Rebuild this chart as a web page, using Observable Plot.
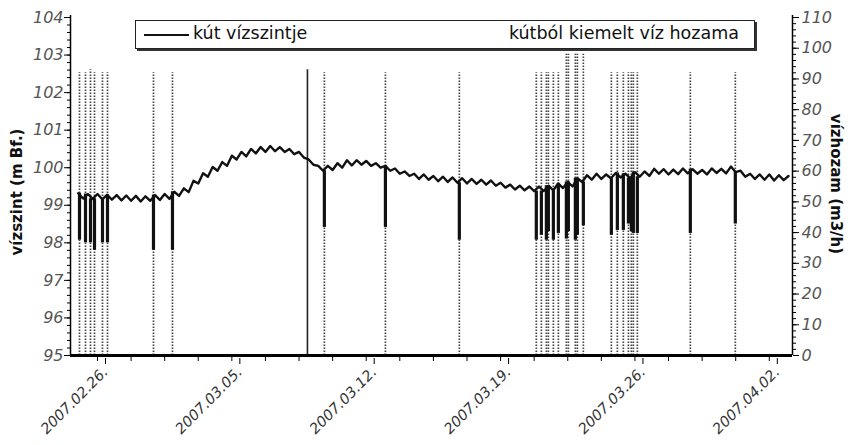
<!DOCTYPE html>
<html><head><meta charset="utf-8">
<script src="https://cdn.jsdelivr.net/npm/d3@7"></script>
<script src="https://cdn.jsdelivr.net/npm/@observablehq/plot@0.6"></script>
<style>
body{margin:0;background:#fff;}
#wrap{position:relative;width:851px;height:445px;overflow:hidden;}
#wrap svg{position:absolute;left:0;top:0;}
#legend{position:absolute;left:135px;top:20px;width:618px;height:27px;border:1px solid #222;box-shadow:2px 2px 0 #333;background:#fff;font-family:"DejaVu Sans",sans-serif;font-size:17.5px;color:#111;}
#legend .ln{position:absolute;left:8px;top:13px;width:45px;height:2px;background:#111;}
#legend .t1{position:absolute;left:57px;top:2px;}
#legend .t2{position:absolute;right:15px;top:2px;}
.ytitle{position:absolute;font-family:"DejaVu Sans",sans-serif;font-weight:bold;font-size:15px;color:#111;white-space:nowrap;}
</style></head>
<body>
<div id="wrap"></div>
<script>
// ---- data ----
const levelStart = "2007-02-25T00:00";   // first reading, readings every 6 hours
const levelStepHours = 6;
const levels = [
 99.32, 99.18, 99.30, 99.17,
 99.30, 99.16, 99.28, 99.15,
 99.27, 99.13, 99.26, 99.12,
 99.25, 99.10, 99.24, 99.12,
 99.27, 99.14, 99.30, 99.17,
 99.36, 99.25, 99.45, 99.35,
 99.65, 99.58, 99.85, 99.76,
 100.02, 99.92, 100.15, 100.05,
 100.32, 100.22, 100.42, 100.30,
 100.50, 100.38, 100.55, 100.42,
 100.58, 100.44, 100.55, 100.42,
 100.50, 100.36, 100.42, 100.27,
 100.22, 100.08, 100.05, 99.92,
 100.05, 99.94, 100.12, 100.00,
 100.20, 100.06, 100.20, 100.08,
 100.18, 100.05, 100.12, 100.00,
 100.05, 99.92, 99.98, 99.84,
 99.90, 99.78, 99.84, 99.70,
 99.82, 99.68, 99.78, 99.64,
 99.76, 99.62, 99.74, 99.60,
 99.72, 99.58, 99.70, 99.57,
 99.68, 99.55, 99.66, 99.52,
 99.60, 99.47, 99.55, 99.42,
 99.52, 99.40, 99.50, 99.38,
 99.50, 99.38, 99.52, 99.40,
 99.58, 99.46, 99.62, 99.50,
 99.72, 99.62, 99.80, 99.68,
 99.84, 99.70, 99.82, 99.72,
 99.86, 99.74, 99.84, 99.72,
 99.88, 99.76, 99.90, 99.78,
 99.97, 99.84, 99.96, 99.82,
 99.95, 99.83, 99.98, 99.85,
 99.96, 99.84, 99.94, 99.82,
 99.98, 99.86, 99.97, 99.85,
 100.03, 99.88, 99.92, 99.76,
 99.84, 99.70, 99.82, 99.68,
 99.82, 99.66, 99.80, 99.67,
 99.78
];
const pumpTimes = [
 "2007-02-25T01:30","2007-02-25T09:00","2007-02-25T15:15","2007-02-25T20:15",
 "2007-02-26T06:15","2007-02-26T12:30","2007-02-28T22:00","2007-03-01T21:45",
 "2007-03-09T19:40","2007-03-13T00:00","2007-03-16T20:25","2007-03-20T20:40",
 "2007-03-21T03:00","2007-03-21T09:15","2007-03-21T11:45","2007-03-21T18:00",
 "2007-03-22T00:15","2007-03-22T10:15","2007-03-22T12:45","2007-03-22T21:30",
 "2007-03-23T00:00","2007-03-23T07:30","2007-03-24T18:30","2007-03-25T02:00",
 "2007-03-25T09:30","2007-03-25T15:50","2007-03-25T19:30","2007-03-25T22:00",
 "2007-03-26T03:00","2007-03-28T21:15","2007-03-31T05:30"
];
const pumpYield = [92,92,93,92,92,92,92,92,92,92,92,92,92,92,92,92,92,98,98,98,98,98,92,92,92,92,92,92,92,92,92];
const dipLow = [98.07,98.0,98.0,97.8,98.0,98.0,97.8,97.8,98.41,98.41,98.07,98.07,98.2,98.07,98.3,98.07,98.25,98.1,98.3,98.07,98.2,98.45,98.2,98.33,98.33,98.5,98.3,98.25,98.25,98.25,98.5];
const solidTimes = ["2007-03-08T22:30"];
const solidYield = [93];
const weekTicks = ["2007-02-26","2007-03-05","2007-03-12","2007-03-19","2007-03-26","2007-04-02"];
const levelTicks = [95,96,97,98,99,100,101,102,103,104];
const yieldTicks = [0,10,20,30,40,50,60,70,80,90,100,110];
const legendLabels = ["kút vízszintje","kútból kiemelt víz hozama"];
const yTitleLeft = "vízszint (m Bf.)";
const yTitleRight = "vízhozam (m3/h)";

// ---- build ----
const parse = s => new Date(s + (s.length === 10 ? "T00:00Z" : "Z"));
const t0 = parse(levelStart);
const levelData = levels.map((v, i) => ({t: new Date(+t0 + i * levelStepHours * 3600e3), v}));
const Y0 = 95, Y1 = 104, Q1 = 110;
const q2y = q => Y0 + q * (Y1 - Y0) / Q1;
const y2q = y => (y - Y0) * Q1 / (Y1 - Y0);
const nearestLevel = t => levelData[Math.max(0, Math.min(levelData.length - 1, Math.round((t - t0) / (levelStepHours * 3600e3))))].v;
const pumps = pumpTimes.map((s, i) => {
  const t = parse(s);
  return {t, q: pumpYield[i], low: dipLow[i], top: nearestLevel(t)};
});
const solids = solidTimes.map((s, i) => ({t: parse(s), q: solidYield[i]}));
const xDomain = [new Date("2007-02-24T14:15Z"), new Date("2007-04-03T05:00Z")];
const minorX = d3.range(-1, 25).map(k => new Date(+parse(weekTicks[0]) + k * 42 * 3600e3)).filter(d => d >= xDomain[0] && d <= xDomain[1]);
const minorLevel = d3.range(0, 46).map(k => Y0 + k * 0.2);
const minorYield = d3.range(0, 56).map(k => q2y(k * 2));

const tickFont = {fontFamily: "DejaVu Sans", fontStyle: "italic", fontSize: 16};

const chart = Plot.plot({
  width: 851, height: 445,
  marginLeft: 70, marginRight: 59, marginTop: 17, marginBottom: 90,
  x: {type: "utc", domain: xDomain, axis: null},
  y: {domain: [Y0, Y1], axis: null},
  marks: [
    Plot.ruleX(pumps, {x: "t", y1: Y0, y2: d => q2y(d.q), stroke: "#444", strokeWidth: 1.7, strokeDasharray: "1.6,1.4"}),
    Plot.ruleX(solids, {x: "t", y1: Y0, y2: d => q2y(d.q), stroke: "#222", strokeWidth: 1.6}),
    Plot.line(levelData, {x: "t", y: "v", stroke: "#111", strokeWidth: 2.4}),
    Plot.ruleX(pumps, {x: "t", y1: "top", y2: "low", stroke: "#111", strokeWidth: 3.2}),
    // axis lines
    Plot.ruleX([xDomain[0]], {y1: Y0, y2: Y1 + 0.05, stroke: "#000", strokeWidth: 1.5}),
    Plot.ruleX([xDomain[1]], {y1: Y0, y2: Y1 + 0.05, stroke: "#000", strokeWidth: 1.5}),
    Plot.ruleY([Y0], {x1: xDomain[0], x2: xDomain[1], stroke: "#000", strokeWidth: 3}),
    // left axis
    Plot.axisY(minorLevel, {anchor: "left", tickSize: 3, tickFormat: () => "", label: null, stroke: "#000"}),
    Plot.axisY(levelTicks, {anchor: "left", tickSize: 6, tickPadding: 1, label: null, stroke: "#000", fill: "#555", ...tickFont}),
    // right axis
    Plot.axisY(minorYield, {anchor: "right", tickSize: 3, tickFormat: () => "", label: null, stroke: "#000"}),
    Plot.axisY(yieldTicks.map(q2y), {anchor: "right", tickSize: 6, tickPadding: 3, label: null, stroke: "#000", fill: "#555",
      tickFormat: v => String(Math.round(y2q(v))), ...tickFont}),
    // x axis
    Plot.axisX(minorX, {anchor: "bottom", tickSize: 6, tickFormat: () => "", label: null, stroke: "#000"}),
    Plot.axisX(weekTicks.map(parse), {anchor: "bottom", tickSize: 6, tickPadding: 5, tickRotate: -45, label: null,
      stroke: "#000", fill: "#333", tickFormat: d3.utcFormat("%Y.%m.%d."), ...tickFont, fontSize: 14.5, dx: 8, dy: 3})
  ]
});

const wrap = document.getElementById("wrap");
wrap.appendChild(chart);

const leg = document.createElement("div");
leg.id = "legend";
leg.innerHTML = `<div class="ln"></div><span class="t1"></span><span class="t2"></span>`;
leg.querySelector(".t1").textContent = legendLabels[0];
leg.querySelector(".t2").textContent = legendLabels[1];
wrap.appendChild(leg);

function addTitle(text, cx, cy, rot) {
  const d = document.createElement("div");
  d.className = "ytitle";
  d.textContent = text;
  wrap.appendChild(d);
  const w = d.offsetWidth, h = d.offsetHeight;
  d.style.left = (cx - w / 2) + "px";
  d.style.top = (cy - h / 2) + "px";
  d.style.transform = `rotate(${rot}deg)`;
}
addTitle(yTitleLeft, 17, 192, -90);
addTitle(yTitleRight, 836, 184, 90);
</script>
</body></html>
